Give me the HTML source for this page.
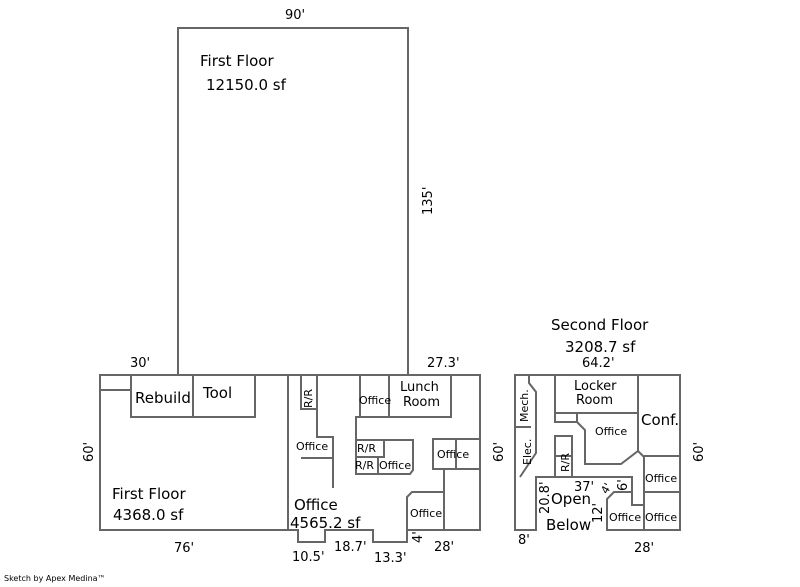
<!DOCTYPE html>
<html><head><meta charset="utf-8"><style>
html,body{margin:0;padding:0;background:#fff;}
svg{display:block;}
text{font-family:"DejaVu Sans","Liberation Sans",sans-serif;fill:#000;}
</style></head><body>
<svg width="800" height="587" viewBox="0 0 800 587" xmlns="http://www.w3.org/2000/svg">
<g fill="none" stroke="#666" stroke-width="2">
<rect x="178" y="28" width="230" height="347"/>
<path d="M100,375 H480 V530 H407 V542 H373 V530 H325 V542 H298 V530 H100 Z"/>
<line x1="288" y1="375" x2="288" y2="530"/>
<line x1="100" y1="390" x2="131" y2="390"/>
<path d="M131,375 V417 H255 V375"/>
<line x1="193" y1="375" x2="193" y2="417"/>
<path d="M301,375 V409 H317 V375"/>
<path d="M317,409 V437 H333 V488"/>
<line x1="301" y1="458" x2="333" y2="458"/>
<path d="M360,375 V417 H451 V375"/>
<line x1="389" y1="375" x2="389" y2="417"/>
<path d="M360,417 H356 V474 H410 L413,470 V440 H356"/>
<path d="M356,457 H384 V440"/>
<line x1="378" y1="457" x2="378" y2="474"/>
<path d="M480,439 H433 V469 H480"/>
<line x1="456" y1="439" x2="456" y2="469"/>
<line x1="444" y1="469" x2="444" y2="530"/>
<path d="M444,492 H412 L407,497 V530"/>
<path d="M515,375 H680 V530 H644 V505 H632 V477 H536 V530 H515 Z"/>
<path d="M644,505 V530 H607 V499 L614,492 H632"/>
<path d="M529,375 V383 L536,392 V453 L520,477"/>
<line x1="515" y1="427" x2="531" y2="427"/>
<path d="M555,375 V413 H638"/>
<path d="M555,413 V422 H577 V413"/>
<path d="M577,422 L585,430 V464 H621 L638,451 L644,457"/>
<line x1="638" y1="375" x2="638" y2="451"/>
<path d="M644,457 V505"/>
<path d="M644,456 H680"/>
<path d="M644,492 H680"/>
<path d="M555,477 V436 H572 V477"/>
<line x1="555" y1="456" x2="572" y2="456"/>
</g>
<g font-size="15">
<text x="200" y="66">First Floor</text>
<text x="206" y="90">12150.0 sf</text>
<text x="112" y="499">First Floor</text>
<text x="113" y="520">4368.0 sf</text>
<text x="135" y="403">Rebuild</text>
<text x="203" y="398">Tool</text>
<text x="294" y="510">Office</text>
<text x="290" y="528">4565.2 sf</text>
<text x="551" y="330">Second Floor</text>
<text x="565" y="352">3208.7 sf</text>
<text x="641" y="425">Conf.</text>
<text x="551" y="504">Open</text>
<text x="546" y="530">Below</text>
</g>
<g font-size="13">
<text x="285" y="19">90'</text>
<text x="130" y="367">30'</text>
<text x="427" y="367">27.3'</text>
<text x="582" y="367">64.2'</text>
<text x="174" y="552">76'</text>
<text x="292" y="561">10.5'</text>
<text x="334" y="551">18.7'</text>
<text x="374" y="562">13.3'</text>
<text x="434" y="551">28'</text>
<text x="518" y="544">8'</text>
<text x="634" y="552">28'</text>
<text x="400" y="391">Lunch</text>
<text x="403" y="406">Room</text>
<text x="574" y="390">Locker</text>
<text x="576" y="404">Room</text>
<text x="574" y="491">37'</text>
<text transform="translate(432,215) rotate(-90)">135'</text>
<text transform="translate(93,462) rotate(-90)">60'</text>
<text transform="translate(503,462) rotate(-90)">60'</text>
<text transform="translate(703,462) rotate(-90)">60'</text>
<text transform="translate(549,514) rotate(-90)">20.8'</text>
<text transform="translate(602,523) rotate(-90)">12'</text>
<text transform="translate(627,491) rotate(-90)">6'</text>
<text transform="translate(422,543) rotate(-90)">4'</text>
</g>
<g font-size="11">
<text x="359" y="404">Office</text>
<text x="296" y="450">Office</text>
<text x="357" y="452">R/R</text>
<text x="355" y="469">R/R</text>
<text x="379" y="469">Office</text>
<text x="437" y="458">Office</text>
<text x="410" y="517">Office</text>
<text x="595" y="435">Office</text>
<text x="645" y="482">Office</text>
<text x="609" y="521">Office</text>
<text x="645" y="521">Office</text>
<text transform="translate(312,408) rotate(-90)">R/R</text>
<text transform="translate(569,472) rotate(-90)">R/R</text>
<text transform="translate(528,422) rotate(-90)">Mech.</text>
<text transform="translate(531,465) rotate(-90)">Elec.</text>
</g>
<text x="602" y="494" font-size="11" transform="rotate(-60,605,490)">4'</text>
<text x="4" y="581" font-size="8">Sketch by Apex Medina™</text>
</svg>
</body></html>
